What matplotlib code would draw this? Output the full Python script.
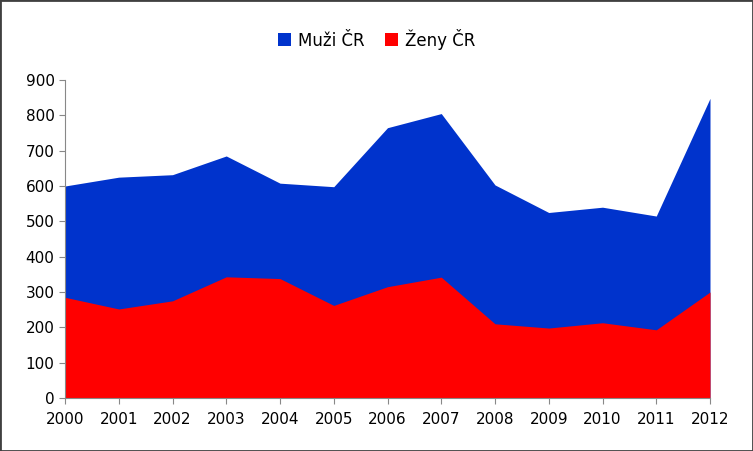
import matplotlib
matplotlib.use("Agg")
import matplotlib.pyplot as plt
from matplotlib.patches import Rectangle

years = [2000, 2001, 2002, 2003, 2004, 2005, 2006, 2007, 2008, 2009, 2010, 2011, 2012]
muzi = [600, 625, 632, 685, 608, 598, 765, 805, 603, 525, 540, 515, 848]
zeny = [285, 252, 275, 343, 338, 262, 315, 342, 210, 198, 213, 193, 300]

fig = plt.figure(figsize=(7.53, 4.51), dpi=100)
fig.patches.append(Rectangle((0, 0), 1, 1, transform=fig.transFigure, fill=False,
                             edgecolor="#404040", linewidth=2))
ax = fig.add_axes([65/753, 1-398/451, 645/753, 318/451])
ax.fill_between(years, 0, muzi, color="#0033CC", linewidth=0, label="Muži ČR")
ax.fill_between(years, 0, zeny, color="#FF0000", linewidth=0, label="Ženy ČR")
ax.set_xlim(2000, 2012)
ax.set_ylim(0, 900)
ax.set_yticks(range(0, 901, 100))
ax.set_xticks(years)
ax.set_xticklabels([str(y) for y in years])
for s in ["top", "right"]:
    ax.spines[s].set_visible(False)
for s in ["left", "bottom"]:
    ax.spines[s].set_color("#888888")
ax.tick_params(labelsize=11, color="#888888", length=4)
ax.tick_params(axis="x", pad=6)
fig.legend(loc="upper center", bbox_to_anchor=(0.5, 0.97), ncol=2, frameon=False,
           fontsize=12, handlelength=0.8, handleheight=0.8, columnspacing=1.2, handletextpad=0.4)
fig.savefig("out.png", dpi=100)
